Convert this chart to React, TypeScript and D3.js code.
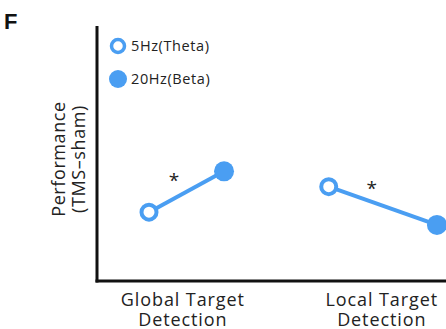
import React from "react";
import * as d3 from "d3";

// Conditions along the x axis (arbitrary position units)
const categories = ["Global Target\nDetection", "Local Target\nDetection"];
const categoryX = [1.23, 4.08];
const thetaX = [0.745, 3.32];
const betaX = [1.82, 4.87];
// Performance change (TMS - sham), arbitrary units
const thetaValues = [0.27, 0.37];
const betaValues = [0.43, 0.22];
const significance = ["*", "*"];
const legendLabels = ["5Hz(Theta)", "20Hz(Beta)"];

const W = 446;
const H = 329;
const BLUE = "#4a9ef2";
const FONT = "'Open Sans', 'Noto Sans', sans-serif";

export default function App() {
  const x = d3.scaleLinear().domain([0, 5]).range([97, 446]);
  const y = d3.scaleLinear().domain([0, 1]).range([281, 26]);
  const line = d3
    .line<[number, number]>()
    .x((d) => x(d[0]))
    .y((d) => y(d[1]));

  // star offsets from the midpoint of each paired line
  const starDx = [-12.5, -11];
  const starDy = [-5, -10.5];

  return (
    <svg
      width={W}
      height={H}
      style={{ position: "absolute", left: 0, top: 0, background: "#fff" }}
    >
      <text x={4} y={29} fontFamily="Arial, 'Liberation Sans', sans-serif" fontWeight="bold" fontSize={22} fill="#111">
        F
      </text>

      {/* axes */}
      <line x1={x(0)} y1={y(1)} x2={x(0)} y2={y(0) + 1.5} stroke="#111" strokeWidth={3} />
      <line x1={x(0) - 1.5} y1={y(0)} x2={W} y2={y(0)} stroke="#111" strokeWidth={3} />

      {/* y label */}
      <g transform={`translate(65, 159) rotate(-90)`} fontFamily={FONT} fontSize={18} fill="#222" textAnchor="middle" letterSpacing={0.6}>
        <text x={0} y={0}>Performance</text>
        <text x={0} y={20}>(TMS–sham)</text>
      </g>

      {/* category labels */}
      {categories.map((c, i) => (
        <text key={c} fontFamily={FONT} fontSize={18} fill="#222" textAnchor="middle" letterSpacing={0.9}>
          {c.split("\n").map((t, j) => (
            <tspan key={j} x={x(categoryX[i])} y={306 + j * 20}>
              {t}
            </tspan>
          ))}
        </text>
      ))}

      {/* paired lines */}
      {categories.map((c, i) => (
        <path
          key={"l" + i}
          d={line([
            [thetaX[i], thetaValues[i]],
            [betaX[i], betaValues[i]],
          ]) as string}
          stroke={BLUE}
          strokeWidth={4}
          fill="none"
        />
      ))}
      {categories.map((c, i) => (
        <g key={"p" + i}>
          <circle cx={x(thetaX[i])} cy={y(thetaValues[i])} r={7.5} fill="#fff" stroke={BLUE} strokeWidth={4} />
          <circle cx={x(betaX[i])} cy={y(betaValues[i])} r={10} fill={BLUE} />
        </g>
      ))}

      {/* significance markers */}
      {significance.map((s, i) => {
        const mx = (x(thetaX[i]) + x(betaX[i])) / 2;
        const my = (y(thetaValues[i]) + y(betaValues[i])) / 2;
        return (
          <text key={"s" + i} x={mx + starDx[i]} y={my + starDy[i]} fontFamily={FONT} fontSize={19} fill="#222" textAnchor="middle">
            {s}
          </text>
        );
      })}

      {/* legend */}
      <circle cx={118} cy={46} r={6.5} fill="#fff" stroke={BLUE} strokeWidth={3.5} />
      <circle cx={118} cy={79} r={9} fill={BLUE} />
      {legendLabels.map((l, i) => (
        <text key={l} x={131} y={51 + i * 33} fontFamily={FONT} fontSize={14.5} fill="#222" letterSpacing={0.6}>
          {l}
        </text>
      ))}
    </svg>
  );
}
